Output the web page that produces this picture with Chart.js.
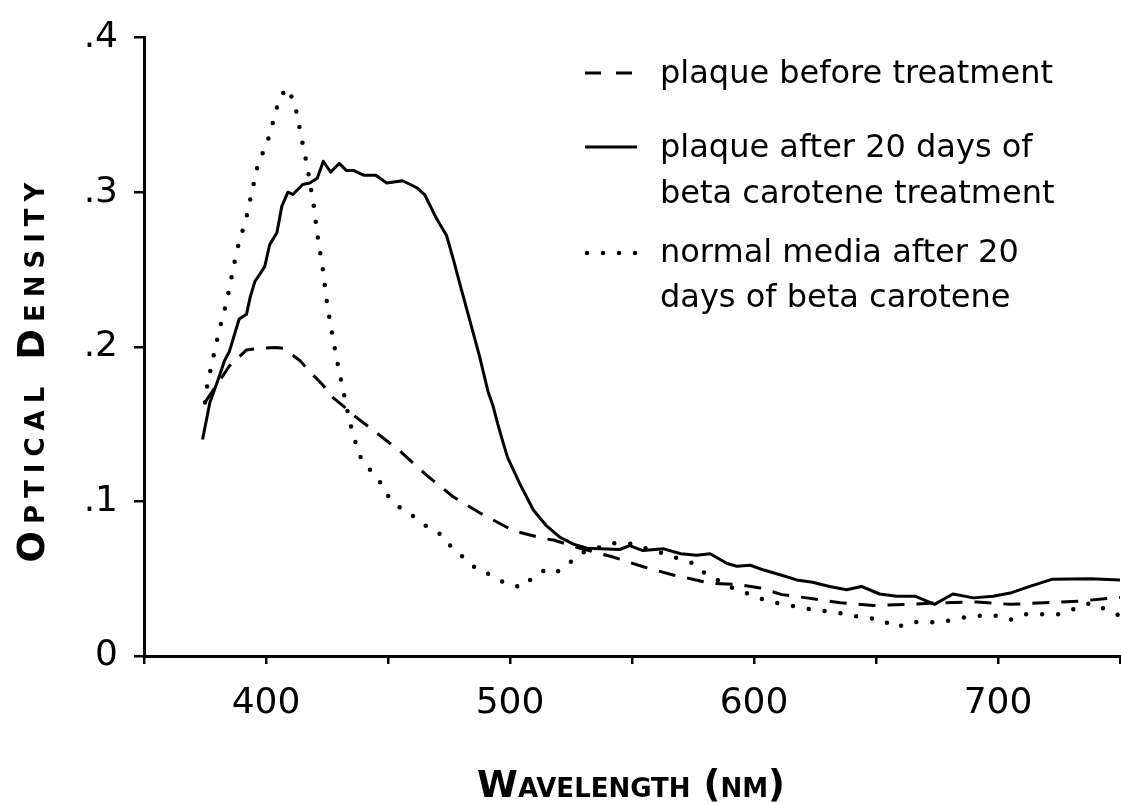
<!DOCTYPE html>
<html>
<head>
<meta charset="utf-8">
<script src="https://cdn.jsdelivr.net/npm/chart.js@4.4.0/dist/chart.umd.min.js"></script>
<style>
  html, body { margin: 0; padding: 0; background: #fff; }
  #wrap { width: 1121px; height: 804px; position: relative; }
</style>
</head>
<body>
<div id="wrap"><canvas id="chart"></canvas></div>
<script>
const FONT = "'DejaVu Sans', sans-serif";
const INK = '#000';

// wavelength (nm) and optical density
const beforeNm = [375, 385, 392, 397, 404, 407, 414, 417, 423.5, 426, 433, 436.5, 445.4, 455.6, 465.9, 476.7,
    487.7, 501.4, 513.7, 517.8, 528.7, 542.3, 554.6, 566.9, 582, 594.3, 602.5, 611.4, 621.6, 635.3, 648.9,
    662.6, 676.2, 691.3, 704.9, 718.6, 733.6, 747.3, 750];
const beforeOd = [0.164, 0.1876, 0.198, 0.199, 0.1996, 0.199, 0.191, 0.1855, 0.175, 0.169, 0.160, 0.155, 0.1443,
    0.1316, 0.1168, 0.103, 0.0925, 0.081, 0.076, 0.075, 0.0697, 0.064, 0.0577, 0.0524, 0.0471, 0.0461, 0.044,
    0.0397, 0.0376, 0.0344, 0.0327, 0.0334, 0.0344, 0.035, 0.0334, 0.0344, 0.0355, 0.0376, 0.0378];

const afterNm = [374, 377, 380, 383, 385, 389, 392, 393.5, 395.5, 397.5, 399.5, 401.5, 404.5, 406.5, 409, 411,
    415, 418, 421, 423.5, 426.5, 430, 433, 436, 440, 445, 449.5, 456, 462, 465, 470, 474, 477, 479.5, 483.5,
    487.5, 491, 493, 495, 497, 499, 504, 509.5, 515, 520.5, 526, 531.5, 537, 545, 549, 554.5, 563, 570, 576.5,
    582, 589, 593, 598.5, 604, 611, 617.5, 624, 631, 638, 644, 651.5, 658.5, 666, 674, 681.5, 690, 698, 705,
    713, 722, 738, 750];
const afterOd = [0.140, 0.164, 0.177, 0.191, 0.197, 0.218, 0.221, 0.232, 0.2425, 0.247, 0.252, 0.266, 0.274,
    0.291, 0.300, 0.2985, 0.305, 0.306, 0.309, 0.320, 0.313, 0.3186, 0.314, 0.314, 0.311, 0.311, 0.306, 0.3074,
    0.3027, 0.2985, 0.2826, 0.272, 0.2552, 0.2404, 0.2172, 0.194, 0.171, 0.162, 0.150, 0.139, 0.1285, 0.1115,
    0.0946, 0.0841, 0.0767, 0.0724, 0.0697, 0.0693, 0.0689, 0.0714, 0.0682, 0.0693, 0.0661, 0.0651, 0.0661,
    0.0598, 0.0581, 0.0587, 0.0556, 0.0524, 0.0492, 0.0477, 0.045, 0.0429, 0.045, 0.0401, 0.0387, 0.0387,
    0.0334, 0.0401, 0.0376, 0.0387, 0.0407, 0.045, 0.0496, 0.0499, 0.0492];

const mediaNm = [375, 376, 380.5, 384, 388, 392, 396.4, 401.4, 405, 408.2, 411.6, 414.3, 417.1, 419.4, 421.2,
    423.4, 425.1, 427.4, 430, 434.4, 438.2, 442.3, 446.7, 450.1, 455.2, 461, 466.3, 471.7, 476.1, 481.6, 486.8,
    492.7, 498.6, 505, 509.5, 513.6, 518.4, 524, 529.5, 542.3, 548.5, 555.6, 562.2, 568.3, 574.7, 580.2, 591.9,
    598.8, 605.2, 624.3, 631.4, 638.2, 645.1, 651.9, 658.1, 664.3, 671, 677.6, 684.5, 691.5, 698.2, 704.9,
    711.5, 718.2, 725, 731.6, 738, 750];
const mediaOd = [0.164, 0.176, 0.2085, 0.230, 0.262, 0.284, 0.316, 0.3365, 0.358, 0.3675, 0.359, 0.337, 0.315,
    0.293, 0.271, 0.249, 0.227, 0.2055, 0.184, 0.151, 0.130, 0.121, 0.1126, 0.1035, 0.0955, 0.0898, 0.0832,
    0.0786, 0.0702, 0.0629, 0.0556, 0.0522, 0.0465, 0.0444, 0.0511, 0.055, 0.0532, 0.0598, 0.0667, 0.073,
    0.073, 0.0697, 0.0667, 0.0634, 0.0602, 0.0532, 0.0433, 0.0397, 0.0355, 0.0298, 0.0287, 0.027, 0.0245,
    0.0239, 0.0182, 0.0222, 0.0217, 0.0222, 0.0245, 0.026, 0.0264, 0.0234, 0.027, 0.027, 0.027, 0.0306,
    0.0344, 0.026];

const xTickLabels = { 400: '400', 500: '500', 600: '600', 700: '700' };
const yTickLabels = ['0', '.1', '.2', '.3', '.4'];

const xTitle = 'Wavelength (nm)';
const yTitle = 'Optical Density';

const legendText = [
    ['plaque before treatment'],
    ['plaque after 20 days of', 'beta carotene treatment'],
    ['normal media after 20', 'days of beta carotene'],
];
const legendKinds = ['dashed', 'solid', 'dotted'];

const DASHED = [17, 12];
const DOTTED = [0, 16];

function toPoints(nm, od) {
    return nm.map((x, i) => ({ x, y: od[i] }));
}

// legend rows: sample line y, then baselines of the text lines
const LEGEND_ROWS = [
    { sampleY: 73, baselines: [83] },
    { sampleY: 147, baselines: [157, 203] },
    { sampleY: 253, baselines: [262, 307] },
];

const figureText = {
    id: 'figureText',
    afterDraw(chart) {
        const ctx = chart.ctx;
        ctx.save();
        ctx.fillStyle = INK;
        ctx.strokeStyle = INK;

        // axis titles in bold small caps
        ctx.font = `bold 37px ${FONT}`;
        ctx.fontVariantCaps = 'small-caps';
        ctx.textAlign = 'center';
        ctx.textBaseline = 'alphabetic';
        ctx.fillText(xTitle, 631, 797);

        ctx.save();
        ctx.translate(44, 369);
        ctx.rotate(-Math.PI / 2);
        ctx.letterSpacing = '7px';
        ctx.fillText(yTitle, 0, 0);
        ctx.restore();

        // legend
        ctx.fontVariantCaps = 'normal';
        ctx.font = `32px ${FONT}`;
        ctx.textAlign = 'left';
        legendText.forEach((lines, i) => {
            const row = LEGEND_ROWS[i];
            const kind = legendKinds[i];
            ctx.beginPath();
            if (kind === 'dashed') {
                ctx.lineWidth = 3;
                ctx.lineCap = 'butt';
                ctx.setLineDash([16, 15]);
                ctx.moveTo(585, row.sampleY);
                ctx.lineTo(632, row.sampleY);
            } else if (kind === 'dotted') {
                ctx.lineWidth = 4.5;
                ctx.lineCap = 'round';
                ctx.setLineDash(DOTTED);
                ctx.moveTo(587, row.sampleY);
                ctx.lineTo(637, row.sampleY);
            } else {
                ctx.lineWidth = 3;
                ctx.lineCap = 'butt';
                ctx.setLineDash([]);
                ctx.moveTo(585, row.sampleY);
                ctx.lineTo(637, row.sampleY);
            }
            ctx.stroke();
            lines.forEach((t, j) => ctx.fillText(t, 660, row.baselines[j]));
        });
        ctx.restore();
    },
};

new Chart(document.getElementById('chart'), {
    type: 'line',
    data: {
        datasets: [
            {
                label: legendText[0].join(' '),
                data: toPoints(beforeNm, beforeOd),
                borderColor: INK,
                borderWidth: 3,
                borderDash: DASHED,
            },
            {
                label: legendText[1].join(' '),
                data: toPoints(afterNm, afterOd),
                borderColor: INK,
                borderWidth: 3,
            },
            {
                label: legendText[2].join(' '),
                data: toPoints(mediaNm, mediaOd),
                borderColor: INK,
                borderWidth: 4.5,
                borderDash: DOTTED,
                borderCapStyle: 'round',
            },
        ],
    },
    options: {
        responsive: true,
        maintainAspectRatio: false,
        animation: false,
        layout: { padding: { top: 25, right: 1, bottom: 0, left: 0 } },
        elements: {
            point: { radius: 0 },
            line: { tension: 0, fill: false, borderJoinStyle: 'round' },
        },
        plugins: {
            legend: { display: false },
            tooltip: { enabled: false },
        },
        scales: {
            x: {
                type: 'linear',
                min: 350,
                max: 750,
                afterFit: (s) => {
                    s.height = 148;
                    s.paddingLeft = 0;
                    s.paddingRight = 0;
                },
                ticks: {
                    stepSize: 50,
                    autoSkip: false,
                    maxRotation: 0,
                    padding: 18,
                    color: INK,
                    font: { family: FONT, size: 36 },
                    callback: (v) => xTickLabels[v] ?? '',
                },
                grid: { drawOnChartArea: false, drawTicks: true, tickLength: 8, color: INK, lineWidth: 2.5 },
                border: { color: INK, width: 3 },
            },
            y: {
                min: 0,
                max: 0.4,
                afterFit: (s) => { s.width = 144; },
                ticks: {
                    stepSize: 0.1,
                    padding: 16,
                    color: INK,
                    font: { family: FONT, size: 36 },
                    callback: (v, i) => yTickLabels[i],
                },
                grid: { drawOnChartArea: false, drawTicks: true, tickLength: 10, color: INK, lineWidth: 2.5 },
                border: { color: INK, width: 3 },
            },
        },
    },
    plugins: [figureText],
});
</script>
</body>
</html>
